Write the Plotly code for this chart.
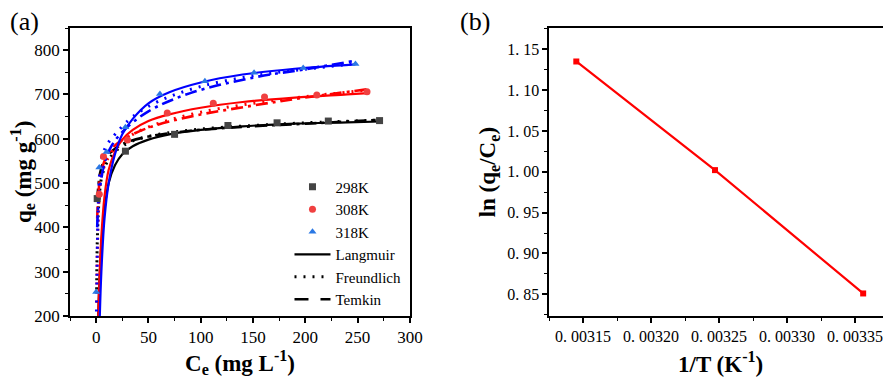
import plotly.graph_objects as go
from plotly.subplots import make_subplots

# ---- panel (a): isotherm data ----
ce_298 = [1, 28, 75, 126, 173, 222, 271]
qe_298 = [465, 572, 610, 630, 636, 640, 641]
ce_308 = [3, 7, 30, 68, 112, 161, 211, 259]
qe_308 = [475, 560, 597, 658, 680, 694, 699, 706]
ce_318 = [0, 3, 10, 28, 61, 104, 151, 198, 248]
qe_318 = [254, 535, 570, 626, 701, 730, 749, 760, 769]

# fitted curves
lang_ce_298 = [2, 3, 5, 8, 12, 18, 25, 35, 50, 70, 100, 140, 190, 240, 272]
lang_q_298 = [200, 270, 360, 440, 500, 540, 565, 583, 598, 610, 620, 628, 634, 637, 639]
lang_ce_308 = [2, 3, 5, 8, 12, 18, 25, 35, 50, 70, 100, 140, 190, 240, 260]
lang_q_308 = [200, 275, 380, 470, 530, 570, 598, 620, 640, 655, 670, 683, 693, 700, 703]
lang_ce_318 = [3.5, 5, 8, 12, 18, 25, 35, 50, 70, 100, 140, 190, 248]
lang_q_318 = [200, 300, 420, 500, 565, 610, 645, 680, 705, 727, 745, 758, 768]

freu_ce_298 = [0.5, 1, 2, 3, 5, 10, 20, 35, 60, 100, 150, 200, 270]
freu_q_298 = [260, 360, 430, 470, 510, 545, 575, 595, 610, 622, 630, 636, 642]
freu_ce_308 = [0.5, 1, 2, 3, 5, 10, 20, 35, 60, 100, 150, 200, 260]
freu_q_308 = [230, 330, 420, 470, 515, 550, 585, 610, 635, 660, 680, 695, 710]
freu_ce_318 = [0.3, 0.7, 1.2, 2, 3, 5, 10, 20, 35, 60, 100, 150, 200, 250]
freu_q_318 = [210, 280, 360, 450, 510, 555, 585, 615, 650, 685, 718, 742, 757, 770]

temk_ce_298 = [1, 2, 4, 8, 15, 27, 50, 90, 150, 200, 272]
temk_q_298 = [460, 490, 525, 552, 572, 590, 605, 618, 628, 634, 643]
temk_ce_308 = [1, 2, 4, 8, 15, 27, 50, 90, 150, 200, 260]
temk_q_308 = [420, 470, 515, 550, 578, 600, 625, 650, 675, 693, 712]
temk_ce_318 = [1, 2, 4, 8, 15, 27, 50, 90, 150, 200, 245]
temk_q_318 = [400, 450, 495, 545, 585, 620, 662, 703, 738, 757, 775]

# ---- panel (b): van't Hoff ----
inv_t = [0.003356, 0.003247, 0.003145]
ln_k = [0.851, 1.002, 1.135]

FONT = "Times New Roman, Liberation Serif, serif"
DOTS = "2px,7px"

fig = make_subplots(rows=1, cols=2)

sets = [
    ("298K", ce_298, qe_298, "square", "#444444", "black",
     lang_ce_298, lang_q_298, freu_ce_298, freu_q_298, temk_ce_298, temk_q_298),
    ("308K", ce_308, qe_308, "circle", "#f04040", "#ff0000",
     lang_ce_308, lang_q_308, freu_ce_308, freu_q_308, temk_ce_308, temk_q_308),
    ("318K", ce_318, qe_318, "triangle-up", "#2a78e4", "#0000ff",
     lang_ce_318, lang_q_318, freu_ce_318, freu_q_318, temk_ce_318, temk_q_318),
]

for s in sets:
    name, cx, cy, sym, mcol, lcol, lx, ly, fx, fy, tx, ty = s
    fig.add_trace(go.Scatter(x=lx, y=ly, mode="lines", line=dict(color=lcol, width=2.2, shape="spline"),
                             showlegend=False), 1, 1)
    fig.add_trace(go.Scatter(x=fx, y=fy, mode="lines", line=dict(color=lcol, width=3, dash=DOTS, shape="spline"),
                             showlegend=False), 1, 1)
    fig.add_trace(go.Scatter(x=tx, y=ty, mode="lines",
                             line=dict(color=lcol, width=2.6, dash="12px,5px,3px,5px", shape="spline"),
                             showlegend=False), 1, 1)

for s in sets:
    name, cx, cy, sym, mcol = s[:5]
    fig.add_trace(go.Scatter(x=cx, y=cy, mode="markers", name=name,
                             marker=dict(symbol=sym, size=7, color=mcol)), 1, 1)

# legend-only entries for the model lines
for nm, dsh, w in [("Langmuir", "solid", 2.2), ("Freundlich", DOTS, 3), ("Temkin", "14px,12px", 2.6)]:
    fig.add_trace(go.Scatter(x=[None], y=[None], mode="lines", name=nm,
                             line=dict(color="black", width=w, dash=dsh)), 1, 1)

fig.add_trace(go.Scatter(x=inv_t, y=ln_k, mode="lines+markers", showlegend=False,
                         line=dict(color="#ff0000", width=2.2),
                         marker=dict(symbol="square", size=6, color="#ff0000")), 1, 2)

axis_common = dict(showline=True, linecolor="black", linewidth=1.5, mirror=True,
                   ticks="outside", ticklen=5, tickwidth=1.5, tickcolor="black",
                   showgrid=False, zeroline=False, automargin=False,
                   tickfont=dict(family=FONT, size=17, color="black"))

fig.update_xaxes(axis_common, row=1, col=1, range=[-25, 300], dtick=50, domain=[0, 0.415],
                 minor=dict(ticks="outside", ticklen=3, tickwidth=1.2, dtick=25, tickcolor="black"))
fig.update_yaxes(axis_common, row=1, col=1, range=[200, 850], dtick=100,
                 minor=dict(ticks="outside", ticklen=3, tickwidth=1.2, dtick=50, tickcolor="black"))

xb_vals = [0.00315, 0.00320, 0.00325, 0.00330, 0.00335]
xb_text = ["0. 00315", "0. 00320", "0. 00325", "0. 00330", "0. 00335"]
yb_vals = [0.85, 0.90, 0.95, 1.00, 1.05, 1.10, 1.15]
yb_text = ["0. 85", "0. 90", "0. 95", "1. 00", "1. 05", "1. 10", "1. 15"]

fig.update_xaxes(axis_common, row=1, col=2, range=[0.003125, 0.003375], domain=[0.585, 1],
                 tickvals=xb_vals, ticktext=xb_text, tickfont=dict(family=FONT, size=16, color="black"),
                 minor=dict(ticks="outside", ticklen=3, tickwidth=1.2, dtick=0.000025, tick0=0.003125, tickcolor="black"))
fig.update_yaxes(axis_common, row=1, col=2, range=[0.8234, 1.176],
                 tickvals=yb_vals, ticktext=yb_text, tickfont=dict(family=FONT, size=16, color="black"),
                 minor=dict(ticks="outside", ticklen=3, tickwidth=1.2, dtick=0.025, tick0=0.825, tickcolor="black"))

# axis titles and panel labels placed as annotations (paper coordinates)
titles = [
    ("<b>C<sub>e</sub> (mg L<sup>-1</sup>)</b>", 0.2076, -0.163, 0),
    ("<b>1/T (K<sup>-1</sup>)</b>", 0.7937, -0.163, 0),
    ("<b>q<sub>e</sub> (mg g<sup>-1</sup>)</b>", -0.0586, 0.5, -90),
    ("<b>ln (q<sub>e</sub>/C<sub>e</sub>)</b>", 0.512, 0.5, -90),
]
for txt, x, y, ang in titles:
    fig.add_annotation(text=txt, x=x, y=y, xref="paper", yref="paper", xanchor="center", yanchor="middle",
                       textangle=ang, showarrow=False, font=dict(family=FONT, size=23, color="black"))

for lab, x in [("(a)", -0.0757), ("(b)", 0.474)]:
    fig.add_annotation(text=lab, x=x, y=1.024, xref="paper", yref="paper", xanchor="left", yanchor="middle",
                       showarrow=False, font=dict(family=FONT, size=26, color="black"))

# the page puts the figure 8px in from the top-left, so size it to fit the window
fig.update_layout(
    width=883, height=373,
    margin=dict(l=62, r=2, t=20, b=65, autoexpand=False),
    plot_bgcolor="white", paper_bgcolor="white",
    font=dict(family=FONT, color="black"),
    legend=dict(x=0.268, y=0.505, xanchor="left", yanchor="top", bgcolor="rgba(0,0,0,0)",
                font=dict(family=FONT, size=15, color="black"), tracegroupgap=0, itemwidth=36),
)

fig.write_html("out.html")
